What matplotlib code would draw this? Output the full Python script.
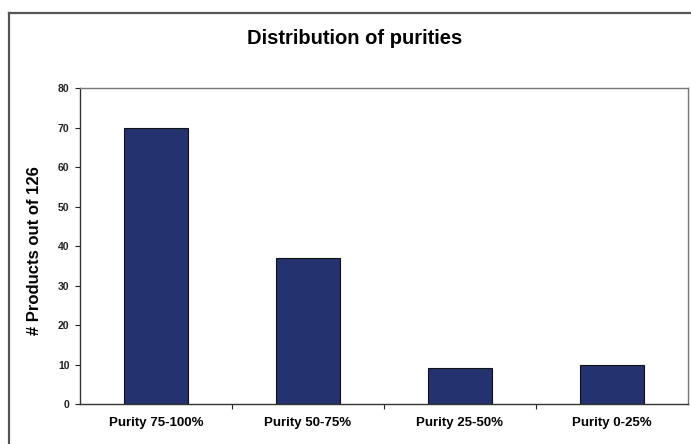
import matplotlib
matplotlib.use("Agg")
import matplotlib.pyplot as plt
from matplotlib.lines import Line2D

categories = ["Purity 75-100%", "Purity 50-75%", "Purity 25-50%", "Purity 0-25%"]
counts = [70, 37, 9, 10]
y_ticks = [0, 10, 20, 30, 40, 50, 60, 70, 80]

plt.rcParams['font.family'] = ['Liberation Sans', 'DejaVu Sans']

W, H = 691, 444
fig = plt.figure(figsize=(W / 100, H / 100), dpi=100)
fig.patch.set_facecolor("white")

# outer chart-area border (left and top edges visible)
fig.add_artist(Line2D([9 / W, 9 / W], [0, 1 - 13 / H], transform=fig.transFigure,
                      color="#555555", lw=1.6))
fig.add_artist(Line2D([9 / W, 1], [1 - 13 / H, 1 - 13 / H], transform=fig.transFigure,
                      color="#555555", lw=1.6))

ax = fig.add_axes([80 / W, 1 - 404 / H, (688 - 80) / W, (404 - 88) / H])
x = list(range(len(categories)))
ax.bar(x, counts, width=0.42, color="#24336f", edgecolor="#111111", linewidth=0.8)

ax.set_xlim(-0.5, len(categories) - 0.5)
ax.set_ylim(0, 80)
ax.set_yticks(y_ticks)
ax.set_yticklabels([str(v) for v in y_ticks], fontsize=7.5, fontweight="bold")
ax.tick_params(axis="y", direction="out", length=3.6, width=0.8, pad=4, colors="#222222")

# category labels centred, tick marks on category boundaries
ax.set_xticks([i + 0.5 for i in x[:-1]])
ax.set_xticklabels([])
ax.tick_params(axis="x", direction="out", length=3.6, width=0.8, colors="#222222")
ax.set_xticks(x, minor=True)
ax.set_xticklabels(categories, minor=True, fontsize=9.5, fontweight="bold")
ax.tick_params(axis="x", which="minor", length=0, pad=9)

for side in ("left", "bottom"):
    ax.spines[side].set_color("#333333")
    ax.spines[side].set_linewidth(1.0)
for side in ("top", "right"):
    ax.spines[side].set_color("#777777")
    ax.spines[side].set_linewidth(1.0)

ax.set_ylabel("# Products out of 126", fontsize=12, fontweight="bold")
ax.yaxis.set_label_coords((42 - 80) / (688 - 80), (404 - 251) / (404 - 88))
fig.text(355 / W, 1 - 39 / H, "Distribution of purities", ha="center", va="center",
         fontsize=14.5, fontweight="bold")

fig.savefig("out.png", dpi=100, facecolor="white")
